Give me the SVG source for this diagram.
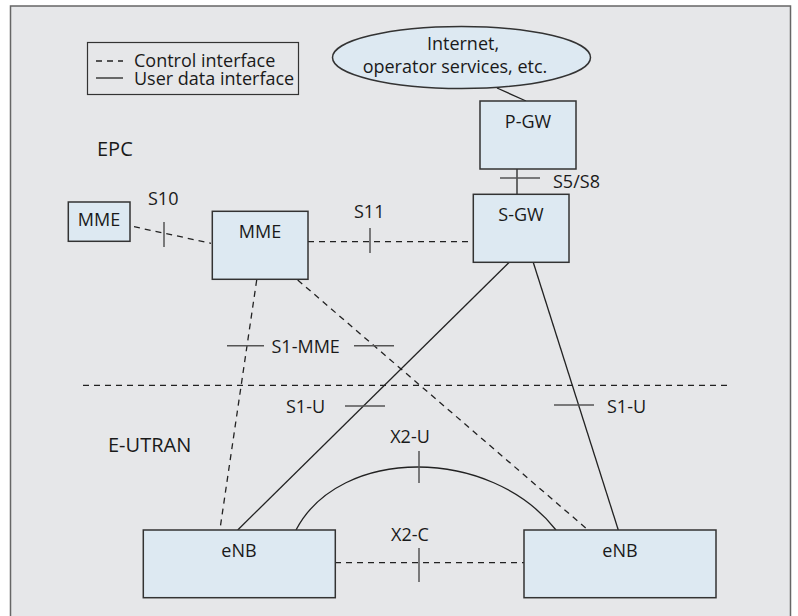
<svg xmlns="http://www.w3.org/2000/svg" width="798" height="616" viewBox="0 0 798 616">
<style>
  text { font-family: "Open Sans", "Noto Sans", "Liberation Sans", sans-serif; font-size: 18px; fill: #1a1a1a; }
  .big { font-size: 20px; }
  .node { fill: #dde9f2; stroke: #333; stroke-width: 1.5; }
  .solid { fill: none; stroke: #222; stroke-width: 1.3; }
  .dash { fill: none; stroke: #222; stroke-width: 1.3; stroke-dasharray: 6 5; }
  .tick { fill: none; stroke: #555; stroke-width: 1.5; }
  .mid { text-anchor: middle; }
</style>
<rect x="10.5" y="6" width="780" height="640" fill="#e6e7e9" stroke="#666" stroke-width="1.5"/>

<g id="legend">
  <rect x="87.5" y="42.5" width="211" height="52" fill="#e6e7e9" stroke="#333" stroke-width="1.2"/>
  <line x1="96" y1="61" x2="123" y2="61" class="dash" stroke-dasharray="4 4"/>
  <line x1="96" y1="78" x2="123" y2="78" class="solid"/>
  <text x="134" y="66.5">Control interface</text>
  <text x="134" y="84.5">User data interface</text>
</g>

<text x="97" y="156" class="big">EPC</text>
<text x="108" y="452" class="big">E-UTRAN</text>

<g id="connectors">
  <line x1="497" y1="88" x2="526" y2="101" class="solid"/>
  <line x1="517" y1="169" x2="517" y2="194" class="solid"/>
  <line x1="500" y1="178" x2="540" y2="178" class="tick"/>
  <text x="553" y="188">S5/S8</text>

  <line x1="308" y1="241.7" x2="473" y2="241.7" class="dash"/>
  <line x1="370" y1="228" x2="370" y2="253" class="tick"/>
  <text x="354" y="218">S11</text>

  <line x1="134" y1="226.7" x2="211" y2="243.3" class="dash"/>
  <line x1="164" y1="222" x2="164" y2="247" class="tick"/>
  <text x="148" y="205">S10</text>

  <line x1="256.7" y1="280" x2="220" y2="529" class="dash"/>
  <line x1="297.7" y1="280" x2="585.7" y2="528" class="dash"/>
  <line x1="509" y1="262.5" x2="237.7" y2="530" class="solid"/>
  <line x1="533.3" y1="262.5" x2="618.3" y2="530" class="solid"/>

  <line x1="83" y1="385.3" x2="728" y2="385.3" class="dash"/>

  <line x1="227" y1="345.7" x2="264" y2="345.7" class="tick"/>
  <line x1="354" y1="345.7" x2="394" y2="345.7" class="tick"/>
  <text x="271.5" y="353">S1-MME</text>

  <line x1="345" y1="406" x2="385" y2="406" class="tick"/>
  <text x="286" y="413">S1-U</text>
  <line x1="554" y1="405" x2="594" y2="405" class="tick"/>
  <text x="607" y="413">S1-U</text>

  <path d="M296,530 C340,446 490,446 556,530" class="solid"/>
  <line x1="419" y1="451" x2="419" y2="483" class="tick"/>
  <text x="410" y="443" class="mid">X2-U</text>

  <line x1="335" y1="562.7" x2="524" y2="562.7" class="dash"/>
  <line x1="419" y1="548" x2="419" y2="582" class="tick"/>
  <text x="410" y="541" class="mid">X2-C</text>
</g>

<g id="internet">
  <ellipse cx="461.5" cy="57.5" rx="129" ry="31" class="node"/>
  <text x="463" y="50" class="mid">Internet,</text>
  <text x="455" y="73" class="mid">operator services, etc.</text>
</g>

<g id="pgw">
  <rect x="480" y="101" width="96" height="68" class="node"/>
  <text x="528" y="128" class="mid">P-GW</text>
</g>

<g id="sgw">
  <rect x="473.3" y="194.3" width="95.7" height="68" class="node"/>
  <text x="521" y="221" class="mid">S-GW</text>
</g>

<g id="mme-small">
  <rect x="68.3" y="202" width="61.7" height="39.3" class="node"/>
  <text x="99" y="226" class="mid">MME</text>
</g>

<g id="mme">
  <rect x="212.3" y="211.3" width="95.7" height="68" class="node"/>
  <text x="260" y="237.5" class="mid">MME</text>
</g>

<g id="enb-left">
  <rect x="143.3" y="530" width="192" height="67.7" class="node"/>
  <text x="239" y="556.5" class="mid">eNB</text>
</g>

<g id="enb-right">
  <rect x="524" y="530" width="192" height="67.7" class="node"/>
  <text x="620" y="556.5" class="mid">eNB</text>
</g>
</svg>
